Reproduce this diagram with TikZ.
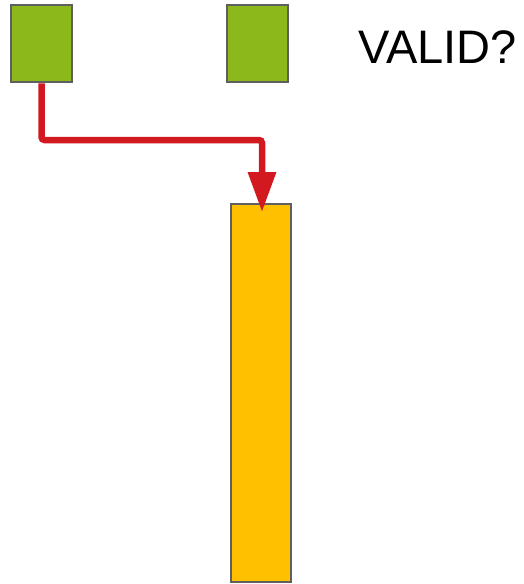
\documentclass[tikz,border=0pt]{standalone}
\usepackage{fontspec}
\setmainfont{Liberation Sans}
\usepackage{xcolor}
\usetikzlibrary{arrows.meta, positioning, calc}

\definecolor{leafgreen}{HTML}{8CB81B}
\definecolor{ambery}{HTML}{FFC000}
\definecolor{flowred}{HTML}{D2191F}
\definecolor{edgegray}{HTML}{5F5F5F}

\begin{document}
\begin{tikzpicture}[
    x=1pt, y=-1pt,
    token/.style={rectangle, draw=edgegray, line width=2.5pt, fill=leafgreen, minimum width=61pt, minimum height=77pt, inner sep=0pt},
    column/.style={rectangle, draw=edgegray, line width=2.5pt, fill=ambery, minimum width=60pt, minimum height=378pt, inner sep=0pt},
    arrow/.style={-{Triangle[length=40pt, width=27pt]}, line width=6.5pt, draw=flowred, rounded corners=3pt},
    label/.style={font=\fontsize{47}{52}\selectfont, inner sep=0pt, anchor=base west}
]
\useasboundingbox (0,0) rectangle (523,584);

% Tokens
\node[token] (first) at (41.5, 43.5) {};
\node[token] (second) at (257.5, 43.5) {};

% Question
\node[label] (valid) at (358, 63.5) {VALID?};

% Column
\node[column] (bar) at (261, 393) {};

% Flow into the column
\coordinate (turn) at (41.5, 140);
\coordinate (drop) at (262, 212);
\draw[arrow] (first.south) -- (turn) -| (drop);

\end{tikzpicture}
\end{document}
